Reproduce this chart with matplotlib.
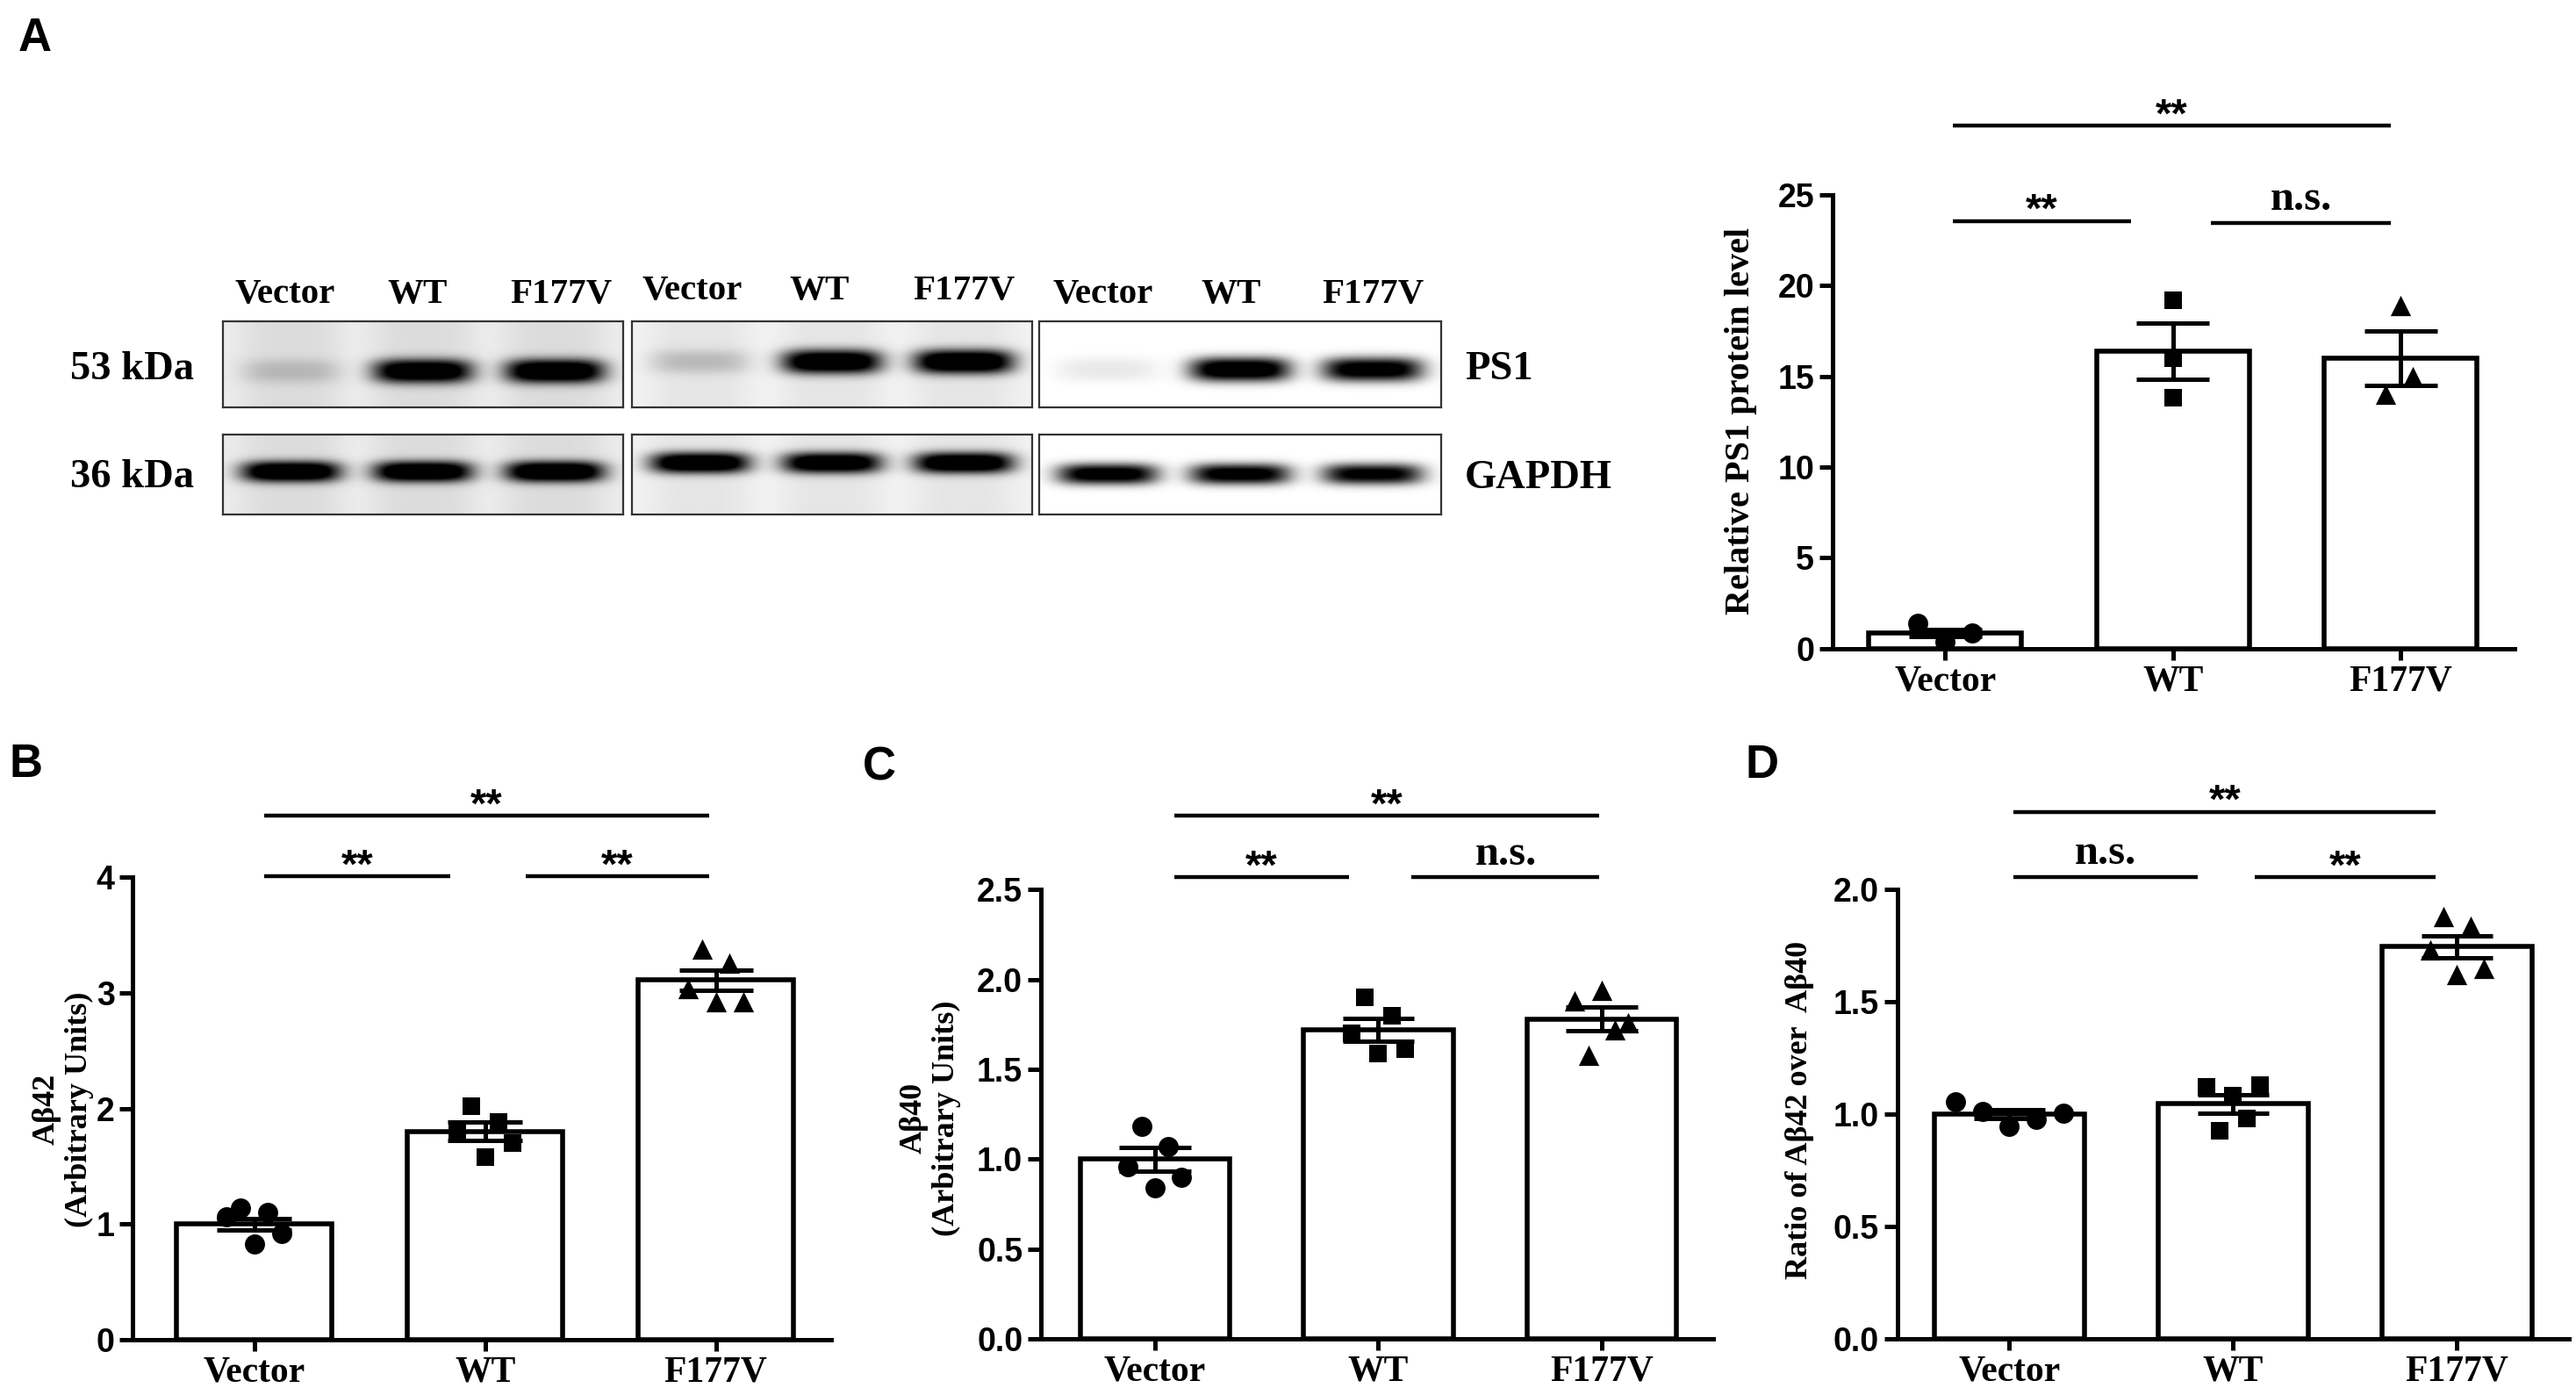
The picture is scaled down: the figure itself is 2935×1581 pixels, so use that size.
import numpy as np
import matplotlib

matplotlib.use("Agg")
import matplotlib.pyplot as plt
from matplotlib.ticker import FormatStrFormatter, MultipleLocator

# ---------------------------------------------------------------- data
GROUPS = ["Vector", "WT", "F177V"]

# A: western blot band strength (lanes Vector, WT, F177V) for three blots
PS1_SIGNAL = [[0.12, 0.92, 0.95], [0.14, 0.97, 1.00], [0.07, 1.00, 0.93]]
GAPDH_SIGNAL = [[0.97, 0.97, 0.98], [0.98, 0.95, 0.98], [0.92, 0.90, 0.86]]
BLOT_LANES = ["Vector", "WT", "F177V"]

# A: relative PS1 protein level, n = 3
PS1_POINTS = [[1.40, 0.38, 0.86], [19.2, 16.0, 13.8], [18.9, 15.0, 14.0]]
PS1_MEAN = [0.88, 16.4, 16.0]
PS1_SEM = [0.20, 1.55, 1.50]

# B: Abeta42, n = 5
AB42_POINTS = [[1.06, 1.14, 0.83, 1.10, 0.92],
               [1.81, 2.02, 1.58, 1.88, 1.70],
               [3.04, 3.38, 2.92, 3.26, 2.92]]
AB42_MEAN = [1.00, 1.80, 3.11]
AB42_SEM = [0.05, 0.08, 0.09]

# C: Abeta40, n = 5
AB40_POINTS = [[0.96, 1.18, 0.84, 1.07, 0.90],
               [1.70, 1.90, 1.59, 1.80, 1.61],
               [1.88, 1.58, 1.94, 1.72, 1.76]]
AB40_MEAN = [1.00, 1.72, 1.78]
AB40_SEM = [0.065, 0.065, 0.065]

# D: Abeta42 / Abeta40 ratio, n = 5
RATIO_POINTS = [[1.056, 1.01, 0.946, 0.975, 1.003],
                [1.12, 0.924, 1.08, 0.98, 1.13],
                [1.73, 1.88, 1.62, 1.835, 1.65]]
RATIO_MEAN = [1.00, 1.045, 1.745]
RATIO_SEM = [0.02, 0.04, 0.05]

# ---------------------------------------------------------------- style
W, H = 2935, 1581
SERIF = "Liberation Serif"
SANS = "Liberation Sans"
MARKERS = ["o", "s", "^"]
MARKER_SIZE = [272, 225, 280]
SPREAD = [-0.12, -0.06, 0.0, 0.06, 0.12]
WIDE_SPREAD = [-0.24, -0.12, 0.0, 0.12, 0.24]
LW = 3.6

fig = plt.figure(figsize=(W / 100, H / 100), dpi=100)


def fx(px):
    return px / W


def fy(py):
    return 1 - py / H


def blot_image(signals, band_y, half_h, background, haze):
    ny, nx = 120, 480
    y = np.linspace(1, 0, ny)[:, None]
    x = np.linspace(0, 1, nx)[None, :]
    img = np.full((ny, nx), background)
    for cx, s in zip([0.17, 0.5, 0.83], signals):
        across = np.exp(-((x - cx) / 0.125) ** 4)
        down = np.exp(-np.abs((y - band_y) / half_h) ** 2.5)
        img = img + haze * across + s * across * down
    return np.clip(img * 1.25, 0, 1)


def draw_blots():
    boxes = [(254, 710), (720, 1176), (1184, 1642)]
    rows = [(366, 464, PS1_SIGNAL, [0.42, 0.53, 0.44], 0.14),
            (495, 586, GAPDH_SIGNAL, [0.53, 0.64, 0.50], 0.13)]
    backgrounds = [0.06, 0.04, 0.0]
    hazes = [0.05, 0.04, 0.0]
    for top, bottom, signal, band_ys, half_h in rows:
        for k, (left, right) in enumerate(boxes):
            ax = fig.add_axes([fx(left), fy(bottom), fx(right - left), (bottom - top) / H])
            img = blot_image(signal[k], band_ys[k], half_h, backgrounds[k], hazes[k])
            ax.imshow(img, cmap="gray_r", vmin=0, vmax=1, extent=[0, 1, 0, 1],
                      aspect="auto", interpolation="bilinear")
            ax.set_xticks([])
            ax.set_yticks([])
            for spine in ax.spines.values():
                spine.set_linewidth(1.6)
                spine.set_color("#333333")
    lane_x = [325, 476, 639, 789, 934, 1098, 1257, 1403, 1564]
    lane_base = [345, 345, 345, 341, 341, 341, 345, 345, 345]
    for i, (x, yb) in enumerate(zip(lane_x, lane_base)):
        fig.text(fx(x), fy(yb), BLOT_LANES[i % 3], ha="center", va="baseline",
                 family=SERIF, weight="bold", fontsize=29.5)
    for text, x, yb, ha in [("53 kDa", 221, 432, "right"), ("36 kDa", 221, 555, "right"),
                            ("PS1", 1669, 432, "left"), ("GAPDH", 1669, 556, "left")]:
        fig.text(fx(x), fy(yb), text, ha=ha, va="baseline",
                 family=SERIF, weight="bold", fontsize=33.5)


def bar_panel(rect, xleft, points, means, sems, spreads, ymax, ystep, yfmt,
              ylabel, label_xy, label_size, brackets):
    ax = fig.add_axes(rect)
    x = np.arange(len(GROUPS))
    means = np.asarray(means)
    sems = np.asarray(sems)
    ax.bar(x, means, width=0.67, color="white", edgecolor="black",
           linewidth=4.0, zorder=2)
    for i, vals in enumerate(points):
        ax.scatter(i + np.asarray(spreads[i]), vals, marker=MARKERS[i],
                   s=MARKER_SIZE[i], color="black", linewidths=0, zorder=3)
    ax.vlines(x, means - sems, means + sems, color="black", lw=LW, zorder=4)
    ax.hlines(np.r_[means - sems, means + sems], np.r_[x, x] - 0.16,
              np.r_[x, x] + 0.16, color="black", lw=LW, zorder=4)

    ax.set_xlim(xleft, 2.5)
    ax.set_ylim(0, ymax)
    ax.set_xticks(x)
    ax.set_xticklabels(GROUPS, family=SERIF, weight="bold", fontsize=30)
    ax.yaxis.set_major_locator(MultipleLocator(ystep))
    ax.yaxis.set_major_formatter(FormatStrFormatter(yfmt))
    for lab in ax.get_yticklabels():
        lab.set_family(SANS)
        lab.set_weight("bold")
        lab.set_fontsize(27)
    ax.tick_params(axis="y", length=11, width=LW, pad=4)
    ax.tick_params(axis="x", length=9.5, width=LW, pad=4)
    for side in ("top", "right"):
        ax.spines[side].set_visible(False)
    for side in ("left", "bottom"):
        ax.spines[side].set_linewidth(LW)
    ax.text(label_xy[0], label_xy[1], ylabel, transform=ax.transAxes,
            rotation=90, ha="center", va="center", family=SERIF,
            weight="bold", fontsize=label_size, linespacing=1.15)

    for x0, x1, y, label in brackets:
        ax.plot([x0, x1], [y, y], color="black", lw=3.2, clip_on=False,
                solid_capstyle="butt")
        if label == "**":
            ax.annotate(label, ((x0 + x1) / 2, y), xytext=(0, -1),
                        textcoords="offset points", ha="center",
                        va="baseline", family=SANS, weight="bold",
                        fontsize=34, annotation_clip=False)
        else:
            ax.annotate(label, ((x0 + x1) / 2, y), xytext=(0, 10.5),
                        textcoords="offset points", ha="center",
                        va="baseline", family=SERIF, weight="bold",
                        fontsize=35, annotation_clip=False)
    return ax


draw_blots()

bar_panel([0.7114, 0.5326, 0.2647, 0.3272], -0.494, PS1_POINTS, PS1_MEAN, PS1_SEM,
          [[-0.12, 0.0, 0.12], [0.0, 0.0, 0.0], [0.0, 0.055, -0.065]],
          25, 5, "%d", "Relative PS1 protein level", (-0.135, 0.502), 29,
          [(0.035, 0.817, 23.55, "**"), (1.168, 1.956, 23.44, "n.s."),
           (0.035, 1.956, 28.79, "**")])

bar_panel([0.0516, 0.0348, 0.2711, 0.3332], -0.525, AB42_POINTS, AB42_MEAN, AB42_SEM,
          [SPREAD, SPREAD, SPREAD], 4, 1, "%d",
          "A\u03b242\n(Arbitrary Units)", (-0.10, 0.498), 26,
          [(0.044, 0.85, 4.007, "**"), (1.175, 1.97, 4.007, "**"),
           (0.044, 1.97, 4.53, "**")])

bar_panel([0.4041, 0.0354, 0.2610, 0.3237], -0.51, AB40_POINTS, AB40_MEAN, AB40_SEM,
          [SPREAD, SPREAD, SPREAD], 2.5, 0.5, "%.1f",
          "A\u03b240\n(Arbitrary Units)", (-0.165, 0.491), 26,
          [(0.086, 0.87, 2.568, "**"), (1.15, 1.99, 2.568, "n.s."),
           (0.086, 1.99, 2.91, "**")])

bar_panel([0.7366, 0.0357, 0.2606, 0.3235], -0.50, RATIO_POINTS, RATIO_MEAN, RATIO_SEM,
          [WIDE_SPREAD, SPREAD, SPREAD], 2.0, 0.5, "%.1f",
          "Ratio of A\u03b242 over  A\u03b240", (-0.146, 0.508), 26,
          [(0.02, 0.84, 2.055, "n.s."), (1.095, 1.905, 2.055, "**"),
           (0.02, 1.905, 2.346, "**")])

for letter, px, py in [("A", 40, 44), ("B", 30, 871), ("C", 1002, 874), ("D", 2007, 872)]:
    fig.text(fx(px), fy(py), letter, ha="center", va="center", family=SANS,
             weight="bold", fontsize=38)

fig.savefig("out.png", dpi=100)
